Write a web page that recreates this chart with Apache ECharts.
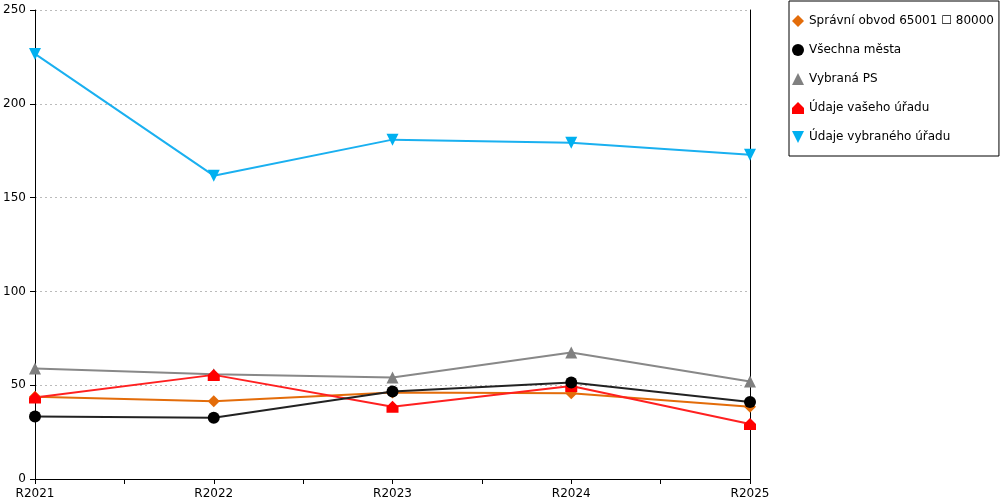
<!DOCTYPE html>
<html><head><meta charset="utf-8">
<script src="https://cdn.jsdelivr.net/npm/echarts@6/dist/echarts.min.js"></script>
<style>html,body{margin:0;padding:0;background:#fff}#c{width:1000px;height:500px}</style>
</head><body><div id="c"></div>
<script>
var categories = ['R2021','R2022','R2023','R2024','R2025'];
var seriesNames = ['Správní obvod 65001 \u2610 80000','Všechna města','Vybraná PS','Údaje vašeho úřadu','Údaje vybraného úřadu'];
var obvod = [43.8, 41.5, 46.1, 45.7, 38.5];
var vsechna = [33.3, 32.6, 46.6, 51.4, 41.1];
var vybranaPS = [58.9, 55.9, 54.1, 67.4, 52.0];
var vasUrad = [43.4, 55.5, 38.5, 49.6, 29.3];
var vybranyUrad = [226.6, 161.7, 180.9, 179.3, 172.9];
var yTicks = [0, 50, 100, 150, 200, 250];

var house = 'path://M5,0 L10,5 L10,10 L0,10 L0,5 Z';
var invTri = 'path://M0,0 L10,0 L5,10 Z';
var colors = ['#e36c0a','#000000','#808080','#ff0000','#00b0f0'];
var lineColors = ['#e36c0a','#222222','#888888','#ff2020','#1ab0f0'];
var symbols = ['diamond','circle','triangle',house,invTri];
var sizes = [12,12,12,12,12];
var datas = [obvod, vsechna, vybranaPS, vasUrad, vybranyUrad];

function toPts(arr){ return arr.map(function(v,i){return [i,v];}); }

var series = datas.map(function(d,i){
  return {
    name: seriesNames[i], type:'line', data: toPts(d),
    symbol: symbols[i], symbolSize: sizes[i], showAllSymbol:true,
    itemStyle:{color: colors[i]},
    lineStyle:{color: lineColors[i], width:2},
    z: i===1 ? 3 : 2
  };
});

var chart = echarts.init(document.getElementById('c'));
chart.setOption({
  animation:false,
  textStyle:{fontFamily:'DejaVu Sans'},
  grid:{left:35, right:250, top:10, bottom:20, containLabel:false},
  legend:{
    orient:'vertical', left:789, top:1,
    borderColor:'#000', borderWidth:1, padding:[14,5,13,3],
    itemWidth:12, itemHeight:12, itemGap:17,
    textStyle:{fontSize:12, color:'#000', fontFamily:'DejaVu Sans'},
    data: seriesNames.map(function(n,i){return {name:n, icon: symbols[i]};})
  },
  xAxis:{
    type:'value', min:0, max:categories.length-1, interval:0.5,
    axisLine:{lineStyle:{color:'#000', width:1}},
    axisTick:{show:true, length:5, lineStyle:{color:'#000'}},
    splitLine:{show:false},
    axisLabel:{color:'#000', fontSize:12, margin:9, showMinLabel:true, showMaxLabel:true,
      formatter:function(v){ return Number.isInteger(v) ? categories[v] : ''; }}
  },
  yAxis:[{
    type:'value', min:yTicks[0], max:yTicks[yTicks.length-1], interval:50,
    axisLine:{show:true, lineStyle:{color:'#000'}},
    axisTick:{show:true, length:5, lineStyle:{color:'#000'}},
    axisLabel:{color:'#000', fontSize:12, margin:9},
    splitLine:{show:true, lineStyle:{color:'#bbbbbb', type:[2,3], width:1}}
  },{
    type:'value', position:'right', min:0, max:250, interval:50,
    axisLine:{show:true, lineStyle:{color:'#000'}},
    axisTick:{show:false}, axisLabel:{show:false}, splitLine:{show:false}
  }],
  series: series
});
</script></body></html>
